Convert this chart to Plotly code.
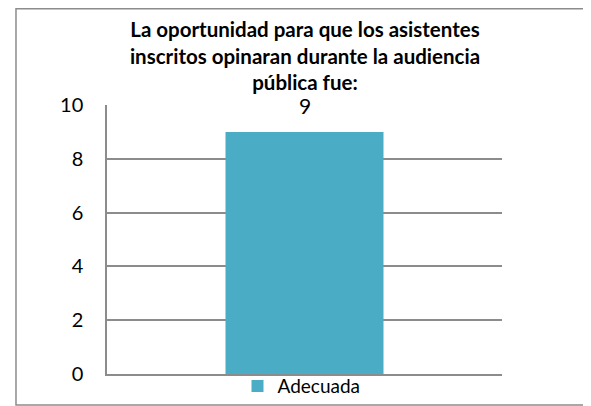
import plotly.graph_objects as go

categories = ["Adecuada"]
values = [9]
series_name = "Adecuada"
y_ticks = [0, 2, 4, 6, 8, 10]
title_text = ("La oportunidad para que los asistentes<br>"
              "inscritos opinaran durante la audiencia<br>"
              "pública fue:")

font_family = "Lato, 'Open Sans', sans-serif"

# the page body adds an 8px margin, so the figure is 8px smaller and shifted
fig = go.Figure()
fig.add_trace(go.Bar(x=categories, y=values, name=series_name,
                     marker=dict(color="#4BACC6", line=dict(width=0)),
                     width=0.4, showlegend=True))

# data label above the bar
for c, v in zip(categories, values):
    fig.add_annotation(x=c, y=v, text=str(v), showarrow=False,
                       yanchor="bottom", yshift=12,
                       font=dict(family=font_family, size=21, color="#000"))

fig.update_layout(
    width=583, height=398,
    margin=dict(l=99, r=89, t=97, b=32, autoexpand=False),
    paper_bgcolor="white", plot_bgcolor="white",
    title=dict(text=title_text, x=0.5094, xanchor="center",
               y=0.927, yanchor="top", yref="container",
               font=dict(family=font_family, size=20.5, color="#000", weight="bold")),
    legend=dict(orientation="h", x=0.4924, xanchor="center",
                y=0.05, yanchor="middle", yref="container",
                font=dict(family=font_family, size=19, color="#000"),
                itemwidth=30, itemsizing="constant", bgcolor="rgba(0,0,0,0)"),
    showlegend=True,
)
fig.update_xaxes(showticklabels=False, showgrid=False, showline=True,
                 linecolor="#8c8c8c", linewidth=1.5, ticks="", fixedrange=True)
fig.update_yaxes(range=[0, 10], tickvals=y_ticks, showgrid=True,
                 gridcolor="#8c8c8c", gridwidth=1.5, showline=True,
                 linecolor="#8c8c8c", linewidth=1.5, zeroline=False,
                 ticks="", ticklabelstandoff=18,
                 tickfont=dict(family=font_family, size=20, color="#000"))

# outer chart border (open on the right, like the source)
fig.add_shape(type="rect", xref="paper", yref="paper",
              x0=-0.2304, x1=1.26, y0=-0.1152, y1=1.358,
              line=dict(color="#8c8c8c", width=1.5), layer="below")

fig.write_html("out.html")
